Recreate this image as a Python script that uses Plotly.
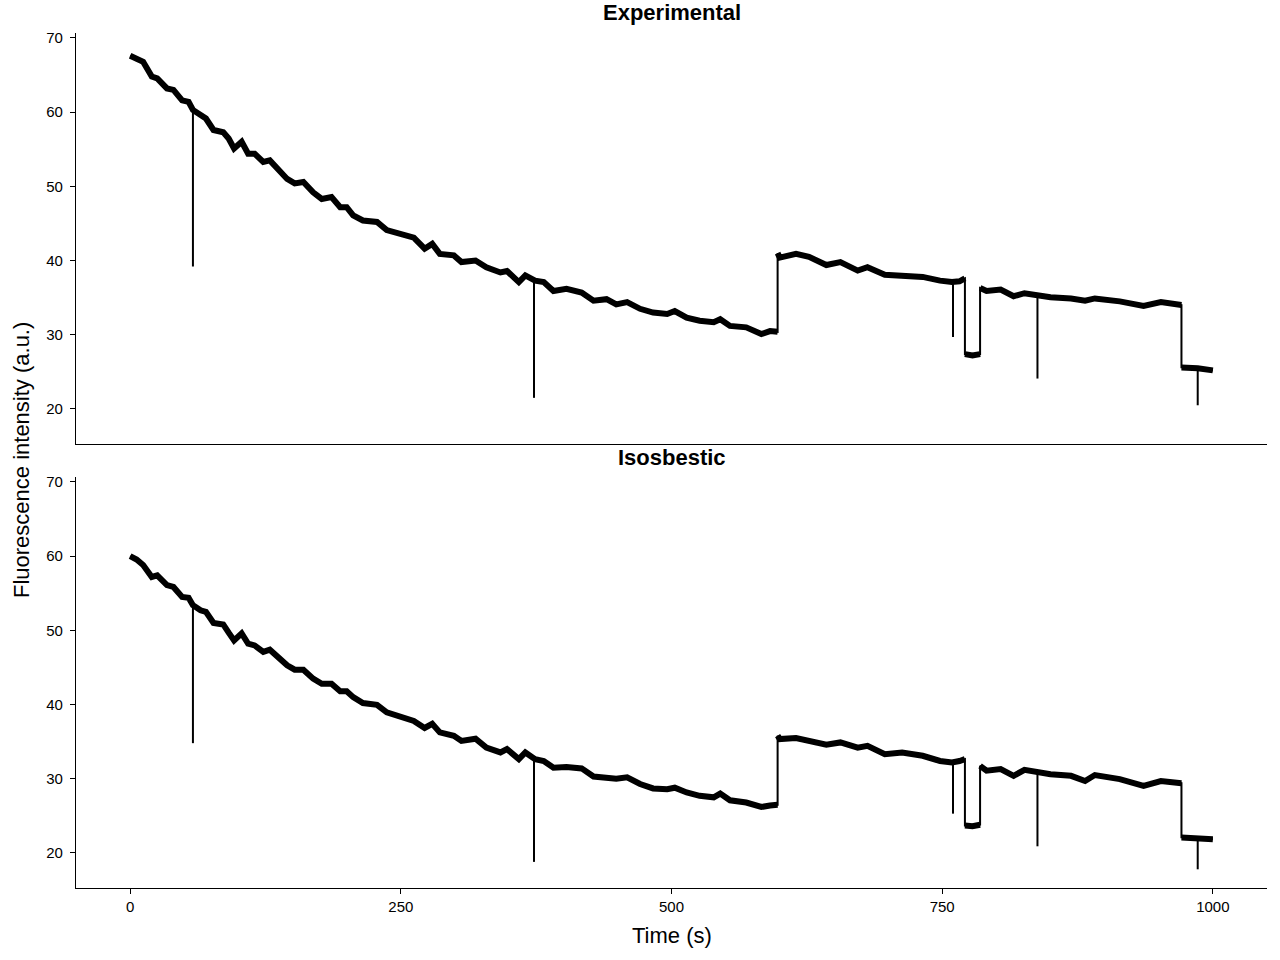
import plotly.graph_objects as go

# ---- data (time in s, fluorescence in a.u.) ----
# repeated time values mark abrupt steps in the recording
time_s = [0, 6, 12, 20, 25, 34, 40, 48, 54, 58, 65, 70, 77, 86, 91, 96, 103, 109, 115,
          123, 129, 136, 145, 152, 160, 169, 177, 186, 194, 200, 206, 215, 222, 228, 237,
          249, 262, 272, 279, 286, 299, 306, 319, 329, 342, 348, 359, 365, 374, 382, 391,
          403, 417, 428, 440, 449, 459, 471, 483, 496, 503, 514, 526, 539, 545, 554, 569,
          583, 591, 598, 598, 600, 615, 627, 643, 656, 672, 681, 697, 713, 732, 748, 759,
          766, 771, 771, 778, 785, 785, 791, 804, 816, 826, 838, 850, 869, 882, 891, 914,
          936, 952, 971, 971, 986, 1000]

experimental = [67.6, 67.25, 66.8, 64.8, 64.55, 63.2, 63.0, 61.6, 61.4, 60.3, 59.6, 59.15,
                57.6, 57.3, 56.45, 55.1, 56.0, 54.4, 54.4, 53.3, 53.5, 52.4, 51.0, 50.4,
                50.6, 49.2, 48.3, 48.55, 47.2, 47.2, 46.1, 45.4, 45.2, 45.2, 44.1, 43.7,
                43.1, 41.6, 42.25, 40.9, 40.7, 39.8, 40.0, 39.1, 38.4, 38.6, 37.1, 38.0,
                37.3, 37.1, 35.9, 36.2, 35.7, 34.6, 34.8, 34.1, 34.4, 33.5, 33.0, 32.8,
                33.2, 32.3, 31.9, 31.7, 32.1, 31.2, 31.0, 30.1, 30.5, 30.4, 41.0, 40.4,
                40.9, 40.5, 39.4, 39.8, 38.65, 39.1, 38.1, 38.0, 37.8, 37.3, 37.1, 37.2,
                37.6, 27.4, 27.2, 27.4, 36.3, 35.9, 36.1, 35.2, 35.6, 35.3, 35.05, 34.9,
                34.6, 34.9, 34.5, 33.9, 34.4, 34.0, 25.6, 25.5, 25.2]

isosbestic = [60.0, 59.55, 58.8, 57.2, 57.4, 56.1, 55.85, 54.5, 54.4, 53.4, 52.7, 52.5,
              51.0, 50.8, 49.7, 48.65, 49.6, 48.2, 47.97, 47.1, 47.4, 46.4, 45.3, 44.7,
              44.7, 43.5, 42.8, 42.8, 41.8, 41.8, 41.0, 40.2, 40.0, 39.96, 38.95, 38.45,
              37.8, 36.85, 37.4, 36.25, 35.8, 35.1, 35.4, 34.2, 33.55, 34.0, 32.65, 33.55,
              32.65, 32.4, 31.5, 31.6, 31.4, 30.3, 30.2, 30.0, 30.2, 29.3, 28.7, 28.6,
              28.8, 28.15, 27.7, 27.5, 28.0, 27.1, 26.8, 26.2, 26.4, 26.5, 35.8, 35.35,
              35.5, 35.2, 34.6, 34.9, 34.2, 34.45, 33.3, 33.55, 33.1, 32.4, 32.2, 32.4,
              32.65, 23.7, 23.6, 23.8, 31.75, 31.1, 31.3, 30.4, 31.2, 30.8, 30.6, 30.4,
              29.7, 30.5, 29.95, 29.05, 29.7, 29.4, 22.1, 22.0, 21.85]

# single-sample artefact dips
spike_t = [58, 373, 760, 838, 986]
spike_exp_top = [60.3, 37.3, 37.1, 35.3, 25.5]
spike_exp_bottom = [39.2, 21.5, 29.7, 24.1, 20.5]
spike_iso_top = [53.4, 32.7, 32.2, 30.8, 22.0]
spike_iso_bottom = [34.8, 18.8, 25.3, 20.9, 17.8]

x_ticks = [0, 250, 500, 750, 1000]
y_ticks = [20, 30, 40, 50, 60, 70]

FONT = "Liberation Sans, Arial, sans-serif"
INK = "black"

fig = go.Figure()


def add_panel(values, tops, bottoms, xa, ya):
    # thin full trace (draws the vertical steps thin)
    fig.add_trace(go.Scatter(x=time_s, y=values, mode="lines",
                             line=dict(color=INK, width=2), xaxis=xa, yaxis=ya,
                             hoverinfo="skip", showlegend=False))
    # thick noisy band: break the line at each step
    bx, by = [], []
    for i, (t, v) in enumerate(zip(time_s, values)):
        if i > 0 and t == time_s[i - 1]:
            bx.append(None)
            by.append(None)
        bx.append(t)
        by.append(v)
    fig.add_trace(go.Scatter(x=bx, y=by, mode="lines",
                             line=dict(color=INK, width=6), xaxis=xa, yaxis=ya,
                             hoverinfo="skip", showlegend=False))
    # spikes
    sx, sy = [], []
    for t, a, b in zip(spike_t, tops, bottoms):
        sx += [t, t, None]
        sy += [a, b, None]
    fig.add_trace(go.Scatter(x=sx, y=sy, mode="lines",
                             line=dict(color=INK, width=2), xaxis=xa, yaxis=ya,
                             hoverinfo="skip", showlegend=False))


add_panel(experimental, spike_exp_top, spike_exp_bottom, "x", "y")
add_panel(isosbestic, spike_iso_top, spike_iso_bottom, "x2", "y2")

axis_common = dict(showline=True, linecolor=INK, linewidth=1.3, mirror=False,
                   showgrid=False, zeroline=False, ticks="outside", ticklen=5,
                   tickwidth=1, tickcolor=INK,
                   tickfont=dict(family=FONT, size=15, color=INK))

x_range = [-50, 1050]
y_range = [15.28, 70.67]

fig.update_layout(
    width=1280, height=960,
    margin=dict(l=76, r=13, t=33, b=72),
    paper_bgcolor="white", plot_bgcolor="white",
    xaxis=dict(**{**axis_common, "ticks": "", "showticklabels": False},
               range=x_range, domain=[0, 1], anchor="y", matches="x2"),
    yaxis=dict(**axis_common, range=y_range, domain=[0.5193, 1], anchor="x",
               tickvals=y_ticks, ticklabelstandoff=4),
    xaxis2=dict(**axis_common, range=x_range, domain=[0, 1], anchor="y2",
                tickvals=x_ticks),
    yaxis2=dict(**axis_common, range=y_range, domain=[0, 0.4807], anchor="x2",
                tickvals=y_ticks, ticklabelstandoff=4),
    annotations=[
        dict(text="<b>Experimental</b>", x=0.5, y=1.0234, xref="paper", yref="paper",
             xanchor="center", yanchor="middle", showarrow=False,
             font=dict(family=FONT, size=22, color=INK)),
        dict(text="<b>Isosbestic</b>", x=0.5, y=0.504, xref="paper", yref="paper",
             xanchor="center", yanchor="middle", showarrow=False,
             font=dict(family=FONT, size=22, color=INK)),
        dict(text="Fluorescence intensity (a.u.)", x=-0.0453, y=0.5006,
             xref="paper", yref="paper", xanchor="center", yanchor="middle",
             textangle=-90, showarrow=False,
             font=dict(family=FONT, size=22, color=INK)),
        dict(text="Time (s)", x=0.5, y=-0.0561, xref="paper", yref="paper",
             xanchor="center", yanchor="middle", showarrow=False,
             font=dict(family=FONT, size=22, color=INK)),
    ],
)

fig.write_html("out.html")
